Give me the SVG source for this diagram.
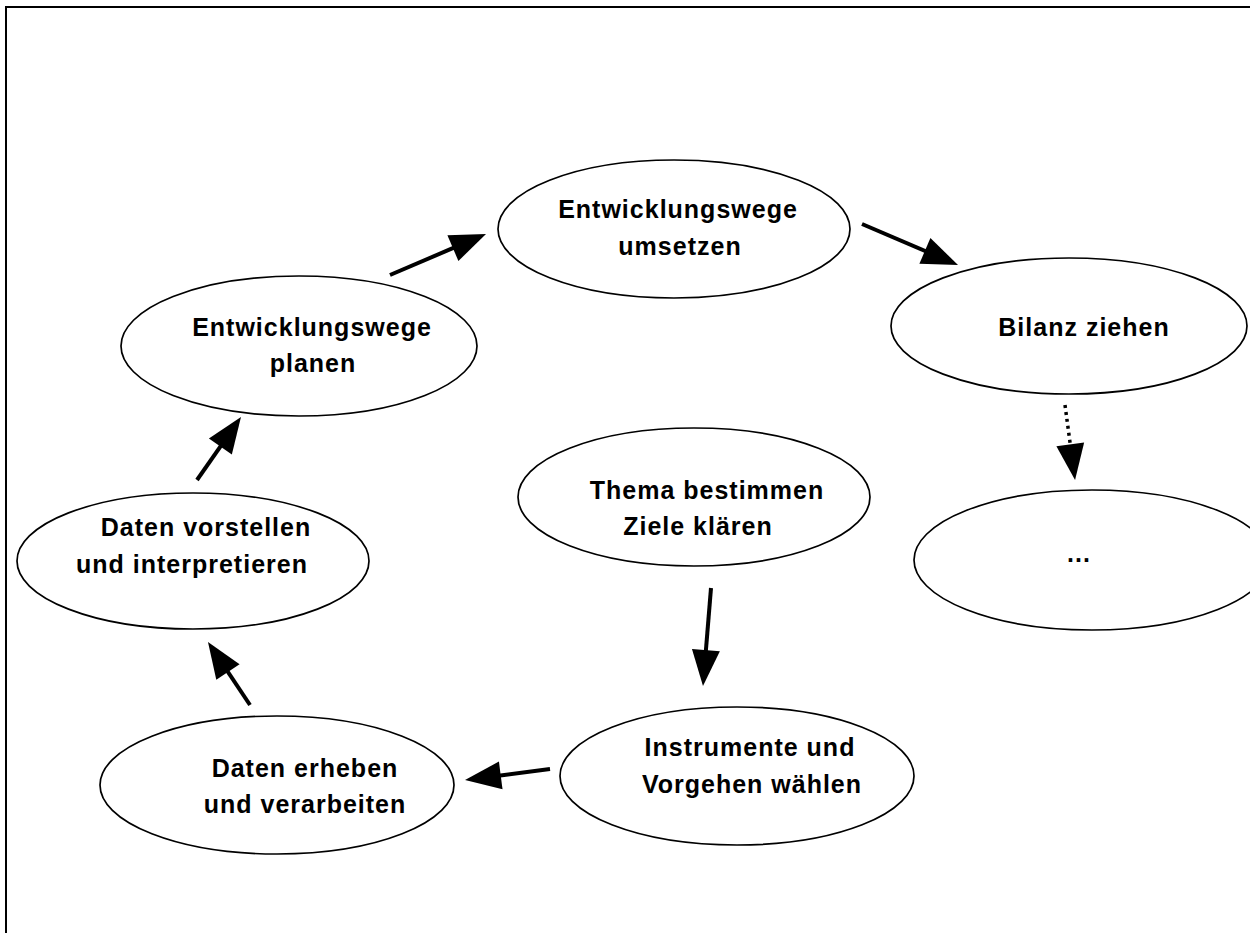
<svg xmlns="http://www.w3.org/2000/svg" width="1250" height="933" viewBox="0 0 1250 933">
<style>
.node ellipse{fill:#fff;stroke:#000;stroke-width:1.7}
.node text{font-family:"Liberation Sans",Arial,sans-serif;font-weight:bold;font-size:25px;letter-spacing:1px;fill:#000;text-anchor:middle}
.conn line{stroke:#000;stroke-width:4;marker-end:url(#head)}
.conn line.dot{stroke-dasharray:3 4;stroke-width:3.5}
</style>
<defs>
<marker id="head" markerUnits="userSpaceOnUse" markerWidth="36" markerHeight="28" refX="10" refY="14" orient="auto" overflow="visible">
<path d="M0,0 L36,14 L0,28 Z" fill="#000"/>
</marker>
</defs>
<rect width="1250" height="933" fill="#fff"/>
<path d="M6,940 V7 H1260" fill="none" stroke="#000" stroke-width="2"/>
<g id="n-umsetzen" class="node"><ellipse cx="674" cy="229" rx="176" ry="69"/><text x="678" y="218">Entwicklungswege</text><text x="680" y="255">umsetzen</text></g>
<g id="n-planen" class="node"><ellipse cx="299" cy="346" rx="178" ry="70"/><text x="312" y="336">Entwicklungswege</text><text x="313" y="372">planen</text></g>
<g id="n-bilanz" class="node"><ellipse cx="1069" cy="326" rx="178" ry="68"/><text x="1084" y="336">Bilanz ziehen</text></g>
<g id="n-dots" class="node"><ellipse cx="1092" cy="560" rx="178" ry="70"/><text x="1079" y="562">...</text></g>
<g id="n-thema" class="node"><ellipse cx="694" cy="497" rx="176" ry="69"/><text x="707" y="499">Thema bestimmen</text><text x="698" y="535">Ziele klären</text></g>
<g id="n-vorstellen" class="node"><ellipse cx="193" cy="561" rx="176" ry="68"/><text x="206" y="536">Daten vorstellen</text><text x="192" y="573">und interpretieren</text></g>
<g id="n-instrumente" class="node"><ellipse cx="737" cy="776" rx="177" ry="69"/><text x="750" y="756">Instrumente und</text><text x="752" y="793">Vorgehen wählen</text></g>
<g id="n-erheben" class="node"><ellipse cx="277" cy="785" rx="177" ry="69"/><text x="305" y="777">Daten erheben</text><text x="305" y="813">und verarbeiten</text></g>
<g id="connectors" class="conn">
<line x1="390" y1="275" x2="462.1" y2="244.2"/>
<line x1="862" y1="224" x2="934.1" y2="254.8"/>
<line class="dot" x1="1065" y1="405" x2="1071.6" y2="454.2"/>
<line x1="711" y1="588" x2="705.1" y2="660.1"/>
<line x1="550" y1="769" x2="490.8" y2="776.7"/>
<line x1="250" y1="705" x2="222.4" y2="663.6"/>
<line x1="197" y1="480" x2="226.1" y2="438.3"/>
</g>
</svg>
